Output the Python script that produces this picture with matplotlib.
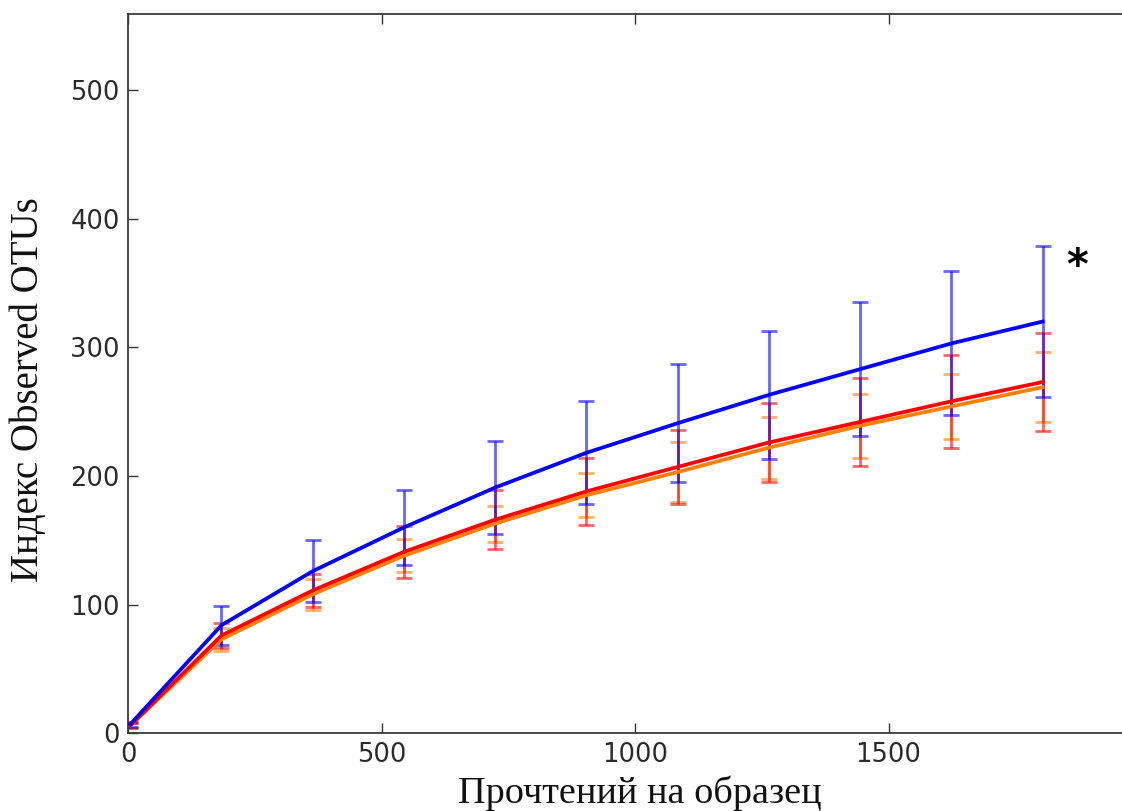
import matplotlib
matplotlib.use('Agg')
import matplotlib.pyplot as plt

# reads per sample (rarefaction depths)
depth = [4, 184, 364, 544, 724, 904, 1084, 1264, 1444, 1624, 1804]

# observed OTUs, mean and error for each group
blue_mean = [7, 84, 126, 160, 191, 218, 241, 263, 283, 303, 320]
blue_err = [2, 15, 24, 29, 36, 40, 46, 50, 52, 56, 59]
red_mean = [6, 76, 111, 141, 166, 188, 207, 226, 242, 258, 273]
red_err = [2, 10, 13, 20, 23, 26, 29, 31, 34, 36, 38]
orange_mean = [6, 73, 108, 138, 163, 185, 203, 222, 239, 254, 269]
orange_err = [2, 9, 12, 13, 14, 17, 23, 24, 25, 25, 27]

plt.rcParams['font.family'] = ['DejaVu Sans']

fig = plt.figure(figsize=(11.22, 8.11), dpi=100)
ax = fig.add_axes([128.2 / 1122, 1 - 733.3 / 811, (1142 - 128.2) / 1122, (733.3 - 14) / 811])

for mean, err, col in [(orange_mean, orange_err, '#ff8000'),
                       (red_mean, red_err, '#ff0000'),
                       (blue_mean, blue_err, '#0000ff')]:
    ax.plot(depth, mean, color=col, lw=2.7, zorder=3)
    ax.errorbar(depth, mean, yerr=err, fmt='none', ecolor=col, elinewidth=2.0,
                capsize=6, capthick=2.0, alpha=0.6, zorder=2)

ax.text(1872, 362, '*', fontsize=30, fontweight='bold', ha='center', va='center', color='black')

ax.set_xlim(0, 2000)
ax.set_ylim(0, 559)
ax.set_xticks([0, 500, 1000, 1500])
ax.set_yticks([0, 100, 200, 300, 400, 500])
ax.tick_params(direction='in', length=7, width=1, color='#333333', top=True, right=True,
               labelsize=18.5, labelcolor='#2a2a2a', pad=6)
for s in ax.spines.values():
    s.set_linewidth(1.3)
    s.set_color('#3a3a3a')

fig.text(29 / 1122, 1 - 390 / 811, 'Индекс Observed OTUs', rotation=90, ha='center', va='center',
         fontsize=28, family='Liberation Serif', color='#111111')
fig.text(640 / 1122, 8 / 811, 'Прочтений на образец', ha='center', va='baseline',
         fontsize=27.5, family='Liberation Serif', color='#111111')

fig.savefig('out.png', dpi=100)
